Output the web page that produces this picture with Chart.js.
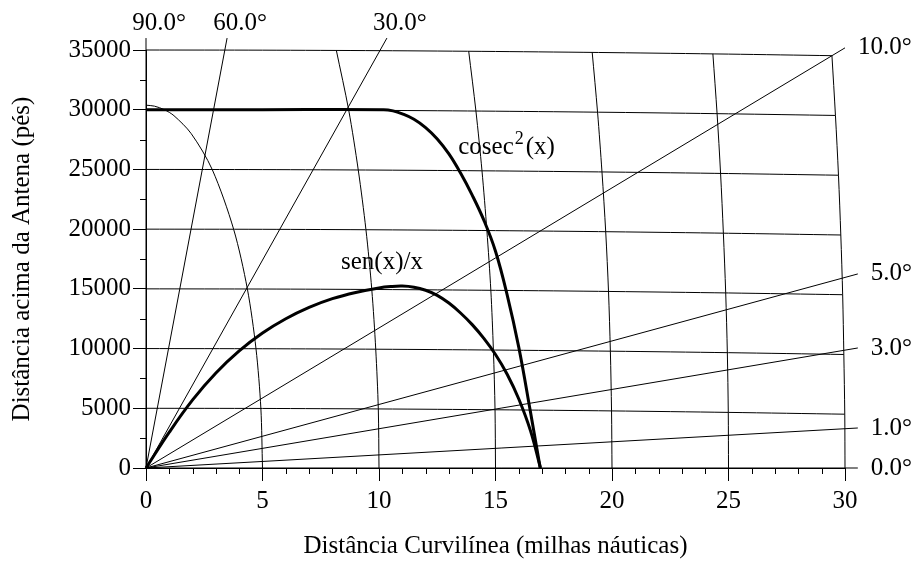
<!DOCTYPE html>
<html>
<head>
<meta charset="utf-8">
<script src="https://cdn.jsdelivr.net/npm/chart.js@4.4.1/dist/chart.umd.min.js"></script>
<style>
  html, body { margin: 0; padding: 0; background: #fff; }
  canvas { display: block; }
</style>
</head>
<body>
<canvas id="coverageChart" width="917" height="562"></canvas>
<script>
// elevation angle lines: label + far end (nm, ft), all start at the origin
const angleNames = ['90.0°', '60.0°', '30.0°', '10.0°', '5.0°', '3.0°', '1.0°', '0.0°'];
const angleEndX = [0, 3.48, 10.34, 30.0, 30.55, 30.55, 30.55, 30.55];
const angleEndY = [36000, 36000, 36000, 35180, 16250, 10050, 3350, 0];

// cosec^2(x) coverage curve
const cosecX = [0, 5, 10.2, 10.6, 11, 11.5, 12, 12.5, 13, 13.5, 14, 14.5, 15, 15.5, 16, 16.5, 16.92];
const cosecY = [30000, 30000, 30000, 29900, 29650, 29200, 28500, 27550, 26300, 24700, 22850, 20750, 18150, 14500, 10100, 4700, 0];

// sen(x)/x coverage curve
const senX = [0, 1, 2, 3, 4, 5, 6, 7, 8, 9, 10, 10.5, 11, 11.5, 12, 12.5, 13, 13.5, 14, 14.5, 15, 15.5, 16, 16.5, 16.93];
const senY = [0, 3000, 5700, 7950, 9800, 11300, 12500, 13450, 14180, 14700, 15080, 15190, 15230, 15135, 14880, 14455, 13810, 12980, 12005, 10855, 9505, 7855, 5780, 3130, 0];

// constant range rings (nm)
const ring5 = [[0, 30380], [0.36, 30300], [0.79, 30000], [1.2, 29500], [1.94, 28000], [2.84, 25000], [3.76, 20000], [4.35, 15000], [4.72, 10000], [4.93, 5000], [5, 0]];
const ring10 = [[8.17, 34960], [8.7, 29960], [9.11, 24950], [9.44, 19950], [9.69, 14950], [9.86, 9950], [9.97, 4950], [10, 0]];
const ring15 = [[13.85, 34895], [14.16, 29890], [14.42, 24885], [14.63, 19880], [14.8, 14880], [14.91, 9880], [14.98, 4875], [15, 0]];
const ring20 = [[19.15, 34800], [19.38, 29795], [19.57, 24790], [19.73, 19785], [19.85, 14785], [19.93, 9780], [19.98, 4780], [20, 0]];
const ring25 = [[24.33, 34675], [24.51, 29670], [24.66, 24665], [24.78, 19660], [24.88, 14660], [24.95, 9660], [24.99, 4655], [25, 0]];
const ring30 = [[29.44, 34525], [29.59, 29520], [29.72, 24515], [29.82, 19510], [29.9, 14510], [29.95, 9505], [29.99, 4505], [30, 0]];

// constant altitude lines (ft), bending down with earth curvature
const alt35000 = [[0, 35000], [5, 34986], [10, 34945], [15, 34876], [20, 34780], [25, 34656], [29.44, 34525]];
const alt30000 = [[0, 30000], [5, 29986], [10, 29945], [15, 29876], [20, 29780], [25, 29656], [29.59, 29520]];
const alt25000 = [[0, 25000], [5, 24986], [10, 24945], [15, 24876], [20, 24780], [25, 24656], [29.72, 24515]];
const alt20000 = [[0, 20000], [5, 19986], [10, 19945], [15, 19876], [20, 19780], [25, 19656], [29.82, 19510]];
const alt15000 = [[0, 15000], [5, 14986], [10, 14945], [15, 14876], [20, 14780], [25, 14656], [29.9, 14510]];
const alt10000 = [[0, 10000], [5, 9986], [10, 9945], [15, 9876], [20, 9780], [25, 9656], [29.95, 9505]];
const alt5000 = [[0, 5000], [5, 4986], [10, 4945], [15, 4876], [20, 4780], [25, 4656], [29.99, 4505]];

const serif = "'Liberation Serif', 'Times New Roman', serif";

function pairs(list) {
    return list.map(p => ({ x: p[0], y: p[1] }));
}
function zipXY(xs, ys) {
    return xs.map((x, i) => ({ x: x, y: ys[i] }));
}
function thin(points, tension) {
    return {
        data: points,
        showLine: true,
        borderColor: '#000',
        borderWidth: 1,
        pointRadius: 0,
        fill: false,
        clip: false,
        tension: tension
    };
}

const datasets = [];
// thick coverage curves first so they sit on top
datasets.push(Object.assign(thin(zipXY(cosecX, cosecY), 0.4), { borderWidth: 3 }));
datasets.push(Object.assign(thin(zipXY(senX, senY), 0.4), { borderWidth: 3 }));
[ring5, ring10, ring15, ring20, ring25, ring30].forEach(r => datasets.push(thin(pairs(r), 0.3)));
[alt35000, alt30000, alt25000, alt20000, alt15000, alt10000, alt5000].forEach(a => datasets.push(thin(pairs(a), 0.3)));
angleNames.forEach((n, i) => datasets.push(thin([{ x: 0, y: 0 }, { x: angleEndX[i], y: angleEndY[i] }], 0)));

// minor ticks + text labels on the chart
const extras = {
    id: 'extras',
    afterDraw(chart) {
        const { ctx, scales: { x, y } } = chart;
        ctx.save();
        ctx.strokeStyle = '#000';
        ctx.lineWidth = 1;
        ctx.beginPath();
        for (let v = 1; v < 30; v++) {
            if (v % 5 === 0) continue;
            const px = Math.round(x.getPixelForValue(v)) + 0.5;
            ctx.moveTo(px, y.bottom);
            ctx.lineTo(px, y.bottom + 6);
        }
        for (let v = 2500; v < 35000; v += 5000) {
            const py = Math.round(y.getPixelForValue(v)) + 0.5;
            ctx.moveTo(x.left - 6, py);
            ctx.lineTo(x.left, py);
        }
        ctx.stroke();

        ctx.fillStyle = '#000';
        ctx.font = '25px ' + serif;
        // angle labels at the end of each line
        angleNames.forEach((name, i) => {
            const px = x.getPixelForValue(angleEndX[i]);
            const py = y.getPixelForValue(angleEndY[i]);
            if (angleEndY[i] > 35500) {
                ctx.textAlign = 'center';
                ctx.textBaseline = 'alphabetic';
                ctx.fillText(name, px + 13, py - 8);
            } else {
                ctx.textAlign = 'left';
                ctx.textBaseline = 'middle';
                ctx.fillText(name, px + 13, py);
            }
        });

        // curve names
        ctx.textAlign = 'left';
        ctx.textBaseline = 'alphabetic';
        let cx = x.getPixelForValue(13.4);
        const cy = y.getPixelForValue(26300);
        ctx.fillText('cosec', cx, cy);
        cx += ctx.measureText('cosec').width;
        ctx.font = '18px ' + serif;
        ctx.fillText('2', cx + 1, cy - 10);
        cx += ctx.measureText('2').width + 3;
        ctx.font = '25px ' + serif;
        ctx.fillText('(x)', cx, cy);
        ctx.fillText('sen(x)/x', x.getPixelForValue(8.37), y.getPixelForValue(16670));
        ctx.restore();
    }
};

new Chart(document.getElementById('coverageChart'), {
    type: 'scatter',
    data: { datasets: datasets },
    options: {
        responsive: false,
        animation: false,
        devicePixelRatio: 1,
        layout: { padding: { left: 0, top: 50, right: 72, bottom: 0 } },
        plugins: { legend: { display: false }, tooltip: { enabled: false } },
        scales: {
            x: {
                type: 'linear',
                min: 0,
                max: 30,
                afterFit: s => { s.height = 94; },
                ticks: { stepSize: 5, color: '#000', padding: 5, font: { family: serif, size: 25 } },
                grid: { drawOnChartArea: false, tickLength: 13, color: '#000' },
                border: { color: '#000' },
                title: {
                    display: true,
                    text: 'Distância Curvilínea (milhas náuticas)',
                    color: '#000',
                    font: { family: serif, size: 25 },
                    padding: { top: 0, bottom: 1 }
                }
            },
            y: {
                type: 'linear',
                min: 0,
                max: 35000,
                afterFit: s => { s.width = 146; },
                ticks: {
                    stepSize: 5000,
                    color: '#000',
                    padding: 2,
                    font: { family: serif, size: 25 },
                    callback: v => String(v)
                },
                grid: { drawOnChartArea: false, tickLength: 13, color: '#000' },
                border: { color: '#000' },
                title: {
                    display: true,
                    text: 'Distância acima da Antena (pés)',
                    color: '#000',
                    font: { family: serif, size: 25 },
                    padding: { top: 7, bottom: 0 }
                }
            }
        }
    },
    plugins: [extras]
});
</script>
</body>
</html>
